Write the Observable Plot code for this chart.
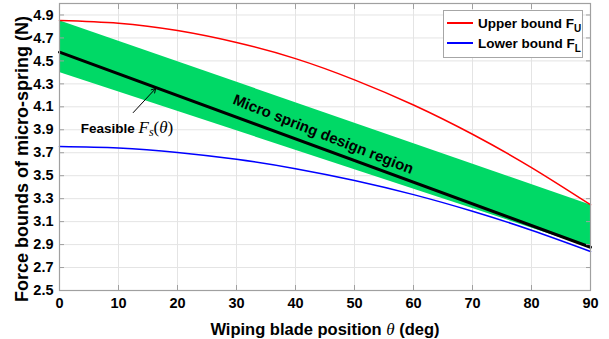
<!DOCTYPE html>
<html><head><meta charset="utf-8">
<script src="https://cdn.jsdelivr.net/npm/d3@7"></script>
<script src="https://cdn.jsdelivr.net/npm/@observablehq/plot@0.6"></script>
<style>
html,body{margin:0;padding:0;background:#fff;}
#wrap{position:relative;width:609px;height:339px;font-family:"Liberation Sans",Arial,sans-serif;}
.legend{position:absolute;left:443px;top:10px;width:140px;height:48px;box-sizing:border-box;border:1px solid #a6a6a6;background:#fff;font-weight:bold;font-size:13.5px;color:#000;}
.row{position:absolute;left:3px;display:flex;align-items:center;height:18px;white-space:nowrap;}
.swatch{display:inline-block;width:26px;height:1.5px;margin-right:5px;}
.row sub{font-size:10px;vertical-align:-4px;line-height:0;}
</style></head><body><div id="wrap"></div>
<script>
// data
const theta = [0, 10, 20, 30, 40, 50, 60, 70, 80, 90];
const upperBound = [4.852, 4.828, 4.764, 4.66, 4.52, 4.335, 4.116, 3.861, 3.571, 3.247];
const lowerBound = [3.754, 3.741, 3.703, 3.643, 3.561, 3.458, 3.335, 3.19, 3.025, 2.84];
const bandTheta = [0, 90];
const bandTop = [4.85, 3.245];
const bandBottom = [4.40, 2.875];
const fsTheta = [0, 90];
const fsValue = [4.576, 2.877];
const xTicks = [0, 10, 20, 30, 40, 50, 60, 70, 80, 90];
const yTicks = [2.5, 2.7, 2.9, 3.1, 3.3, 3.5, 3.7, 3.9, 4.1, 4.3, 4.5, 4.7, 4.9];
const legendLabels = ["Upper bound F", "Lower bound F"];
const legendSubs = ["U", "L"];
const legendColors = ["#ff0000", "#0000ff"];
const regionLabel = {theta: 44.7, f: 3.86, text: "Micro spring design region"};
const feasibleLabel = {theta: 3.6, f: 3.91, text: "Feasible F_s(θ)"};
const feasibleArrow = {theta1: 12.5, f1: 4.05, theta2: 16.3, f2: 4.26};
const xLabel = "Wiping blade position θ (deg)";
const yLabel = "Force bounds of micro-spring (N)";

const upper = theta.map((t, i) => ({theta: t, f: upperBound[i]}));
const lower = theta.map((t, i) => ({theta: t, f: lowerBound[i]}));
const band = bandTheta.map((t, i) => ({theta: t, lo: bandBottom[i], hi: bandTop[i]}));
const fs = fsTheta.map((t, i) => ({theta: t, f: fsValue[i]}));

const gray = "#a0a0a0";
const plot = Plot.plot({
  width: 609, height: 339,
  marginLeft: 59, marginRight: 19, marginTop: 3, marginBottom: 49,
  style: {fontFamily: '"Liberation Sans", Arial, sans-serif', fontSize: "14.5px", fontWeight: "bold", color: "#000", background: "#fff", overflow: "visible"},
  x: {domain: [0, 90]},
  y: {domain: [2.5, 5]},
  marks: [
    Plot.gridX(xTicks, {stroke: "#e4e4e4", strokeOpacity: 1, strokeWidth: 1}),
    Plot.gridY(yTicks, {stroke: "#e4e4e4", strokeOpacity: 1, strokeWidth: 1}),
    Plot.areaY(band, {x: "theta", y1: "lo", y2: "hi", fill: "#00d966"}),
    Plot.line(upper, {x: "theta", y: "f", stroke: "#ff0000", strokeWidth: 1.5, curve: "natural"}),
    Plot.line(lower, {x: "theta", y: "f", stroke: "#0000ff", strokeWidth: 1.5, curve: "natural"}),
    Plot.line(fs, {x: "theta", y: "f", stroke: "#000", strokeWidth: 3}),
    Plot.arrow([feasibleArrow], {x1: "theta1", y1: "f1", x2: "theta2", y2: "f2", stroke: "#000", strokeWidth: 1, headLength: 7}),
    Plot.text([regionLabel], {x: "theta", y: "f", text: "text", rotate: 21.5, fontSize: 15, fontWeight: "bold", fill: "#000"}),
    Plot.text([feasibleLabel], {x: "theta", y: "f", text: "text", textAnchor: "start", fontSize: 13.5, fontWeight: "bold", fill: "#000"}),
    Plot.frame({stroke: gray, strokeWidth: 1.2}),
    Plot.axisX(xTicks, {anchor: "bottom", tickSize: 0, tickPadding: 7, label: xLabel, labelAnchor: "center", labelOffset: 44, labelArrow: "none"}),
    Plot.axisX(xTicks, {anchor: "bottom", tickSize: -5, tickFormat: () => "", label: null, stroke: gray}),
    Plot.axisX(xTicks, {anchor: "top", tickSize: -5, tickFormat: () => "", label: null, stroke: gray}),
    Plot.axisY(yTicks, {anchor: "left", tickSize: 0, tickPadding: 6, tickFormat: ".1f", label: yLabel, labelAnchor: "center", labelOffset: 44, labelArrow: "none"}),
    Plot.axisY(yTicks, {anchor: "left", tickSize: -5, tickFormat: () => "", label: null, stroke: gray}),
    Plot.axisY(yTicks, {anchor: "right", tickSize: -5, tickFormat: () => "", label: null, stroke: gray})
  ]
});

// rich text post-processing
const serif = '"Liberation Serif", "Times New Roman", serif';
function mk(parent, txt, attrs) {
  const t = document.createElementNS("http://www.w3.org/2000/svg", "tspan");
  t.textContent = txt;
  for (const k in attrs) t.setAttribute(k, attrs[k]);
  parent.appendChild(t);
  return t;
}
plot.querySelectorAll("text").forEach(el => {
  const s = el.textContent;
  if (s === feasibleLabel.text) {
    el.textContent = "";
    mk(el, "Feasible ", {});
    mk(el, "F", {"font-family": serif, "font-style": "italic", "font-weight": "normal", "font-size": 17});
    mk(el, "s", {"font-family": serif, "font-style": "italic", "font-weight": "normal", "font-size": 12, "dy": 3});
    mk(el, "(", {"font-family": serif, "font-weight": "normal", "font-size": 17, "dy": -3});
    mk(el, "θ", {"font-family": serif, "font-style": "italic", "font-weight": "normal", "font-size": 17});
    mk(el, ")", {"font-family": serif, "font-weight": "normal", "font-size": 17});
  } else if (s.startsWith("Wiping blade")) {
    el.textContent = "";
    el.setAttribute("font-size", 16.5);
    mk(el, "Wiping blade position ", {});
    mk(el, "θ", {"font-family": serif, "font-style": "italic", "font-weight": "normal", "font-size": 17});
    mk(el, " (deg)", {});
  } else if (s.startsWith("Force bounds")) {
    el.setAttribute("font-size", 18);
    el.setAttribute("dx", -12);
  }
});

const wrap = document.getElementById("wrap");
wrap.appendChild(plot);
const legend = document.createElement("div");
legend.className = "legend";
legendLabels.forEach((lab, i) => {
  const row = document.createElement("div");
  row.className = "row";
  row.style.top = (3 + i * 20) + "px";
  const sw = document.createElement("span");
  sw.className = "swatch";
  sw.style.background = legendColors[i];
  row.appendChild(sw);
  const tx = document.createElement("span");
  tx.textContent = lab;
  const sb = document.createElement("sub");
  sb.textContent = legendSubs[i];
  tx.appendChild(sb);
  row.appendChild(tx);
  legend.appendChild(row);
});
wrap.appendChild(legend);
</script></body></html>
